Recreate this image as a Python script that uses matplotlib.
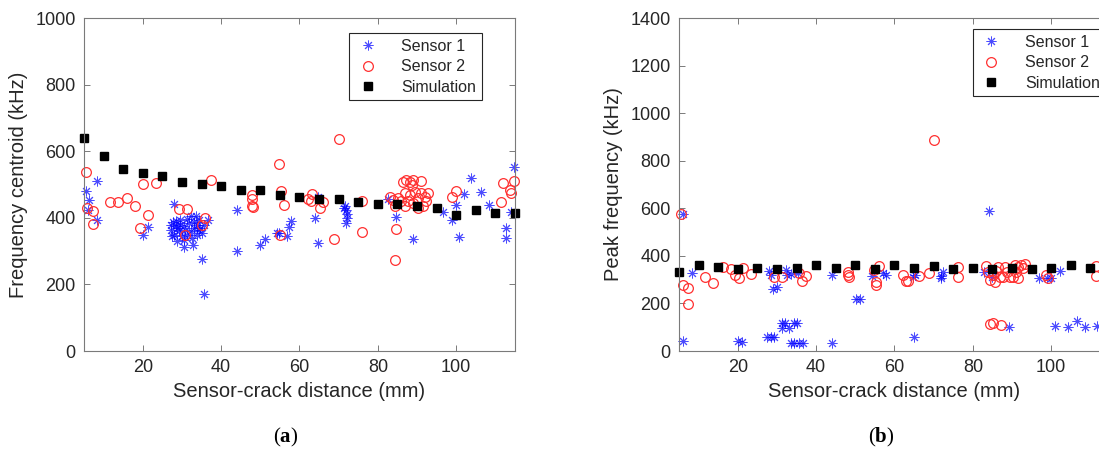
import numpy as np
import matplotlib
matplotlib.use('Agg')
import matplotlib.pyplot as plt

plt.rcParams['font.family'] = ['Liberation Sans', 'DejaVu Sans']
plt.rcParams['mathtext.fontset'] = 'custom'
plt.rcParams['mathtext.rm'] = 'Liberation Serif'
plt.rcParams['mathtext.bf'] = 'Liberation Serif:bold'

# ---- (a) frequency centroid ----
a_s1_x = [8.2, 5.4, 6.3, 6.0, 8.4, 21.3, 20.1, 28.1,
          27.8, 28.4, 27.3, 27.9, 27.5, 28.8, 30.5, 32.9, 29.6, 30.5, 31.3, 32.2,
          33.5, 34.3, 33.9, 33.0, 32.2, 31.3, 30.1, 29.2, 34.7, 35.6, 36.6, 35.1,
          33.9, 32.6, 30.5, 28.8, 29.6, 31.8, 33.0, 30.9, 28.4, 27.3, 34.3,
          35.1, 35.7,
          44.1, 44.1, 50.0, 51.3, 54.3, 54.9, 56.8, 57.2, 57.8, 64.0, 64.8, 64.8,
          71.7, 71.8, 72.1, 72.1, 72.0, 71.4,
          82.6, 84.7, 89.0, 96.6, 98.8, 100.0, 100.6, 102.0, 103.9, 106.2, 108.3,
          112.8, 112.8, 113.9, 114.7]
a_s1_y = [512, 482, 454, 424, 392, 373, 347, 442,
          386, 376, 364, 349, 344, 329, 312, 319, 394, 374, 396, 404,
          404, 394, 379, 369, 359, 349, 344, 359, 369, 379, 394, 354,
          349, 339, 334, 369, 379, 384, 386, 364, 389, 379, 364,
          276, 171,
          422, 301, 318, 337, 354, 354, 345, 372, 391, 399, 324, 464,
          434, 424, 412, 399, 384, 429,
          456, 402, 336, 417, 394, 437, 342, 472, 521, 479, 439,
          369, 339, 417, 552]

a_s2_x = [5.4, 20.0, 23.3, 37.3, 5.8, 7.4, 7.3, 11.6, 13.7, 16.0, 18.0, 21.3,
          19.4, 29.2, 31.3, 36.0, 35.1, 30.9,
          70.0, 54.8, 47.9, 47.9, 47.9, 48.1, 55.3, 56.0, 62.1, 63.2, 62.9, 66.1,
          65.3, 55.1, 68.7, 75.9, 75.9,
          83.1, 84.3, 85.2, 86.4, 87.3, 88.2, 88.6, 89.0, 91.1, 86.9, 87.7, 86.9,
          89.4, 90.3, 91.1, 92.0, 92.4, 91.5, 90.3, 89.0, 88.1, 86.0, 83.9, 92.8,
          84.7, 84.3, 98.8, 100.0, 111.9, 111.5, 113.6, 114.0, 114.7]
a_s2_y = [539, 501, 504, 513, 429, 421, 381, 447, 447, 460, 436, 409,
          369, 426, 426, 399, 377, 347,
          638, 561, 469, 456, 436, 432, 482, 439, 458, 471, 449, 448,
          429, 347, 337, 451, 357,
          464, 434, 459, 509, 514, 509, 499, 514, 512, 474, 449, 434,
          479, 459, 474, 464, 449, 434, 429, 444, 469, 449, 454, 474,
          366, 274, 464, 481, 504, 447, 484, 474, 512]

sim_x = [5, 10, 15, 20, 25, 30, 35, 40, 45, 50, 55, 60,
         65, 70, 75, 80, 85, 90, 95, 100, 105, 110, 115]
a_sim_y = [640, 586, 548, 535, 525, 508, 503, 497, 485, 485, 470, 464,
           455, 455, 446, 442, 440, 436, 430, 407, 422, 415, 415]

# ---- (b) peak frequency ----
b_s1_x = [6.0, 6.0, 8.4, 20.1, 21.1, 27.5, 28.4, 29.2, 28.1, 28.4, 29.0, 30.1,
          32.2, 32.6, 33.5, 31.2, 32.0, 34.3, 35.1, 31.2, 33.0, 33.5, 34.3, 35.6,
          36.6, 35.3,
          44.0, 44.0, 50.2, 51.3, 54.2, 57.0, 57.8, 64.6, 65.2, 64.9, 71.8, 72.3,
          72.0,
          84.2, 82.8, 85.0, 89.2, 96.9, 98.8, 100.0, 102.2, 100.9, 104.3, 106.6,
          108.5, 111.6]
b_s1_y = [576, 44, 329, 41, 38, 60, 60, 60, 338, 320, 261, 271,
          341, 320, 324, 116, 119, 119, 119, 95, 98, 35, 35, 35,
          35, 327,
          320, 35, 217, 217, 315, 327, 320, 313, 320, 60, 308, 334,
          315,
          590, 334, 310, 102, 306, 306, 306, 336, 105, 102, 128,
          102, 105]

b_s2_x = [5.4, 6.0, 7.4, 7.4, 11.6, 13.7, 16.2, 18.2, 19.4, 20.3, 21.3, 23.3,
          29.2, 31.3, 36.3, 37.4, 35.6,
          48.1, 48.2, 48.5, 56.1, 54.8, 55.3, 55.3, 62.1, 62.9, 63.5, 66.3, 68.9,
          76.1, 76.1, 70.1,
          83.3, 83.9, 84.3, 85.6, 86.4, 86.9, 88.1, 88.6, 89.4, 90.7, 91.5, 92.4,
          92.8, 91.1, 90.3, 91.5, 87.7, 85.2, 86.0, 93.2, 84.3, 85.2, 87.3, 98.6,
          99.2, 111.5, 111.5]
b_s2_y = [576, 278, 264, 198, 310, 287, 355, 346, 320, 306, 348, 324,
          313, 313, 294, 315, 327,
          334, 320, 310, 357, 341, 292, 278, 320, 294, 294, 315, 327,
          355, 313, 887,
          357, 334, 299, 292, 355, 313, 355, 334, 313, 362, 355, 362,
          348, 334, 313, 306, 310, 320, 338, 364, 114, 119, 109, 320,
          306, 357, 315]

b_sim_y = [332, 361, 352, 346, 348, 346, 348, 361, 348, 361, 346, 361,
           348, 358, 346, 348, 346, 348, 346, 348, 361, 348, 350]

TXT = '#262626'
AX = '#7a7a7a'
ast = (8, 2, 0)


def style_axes(ax, ymax, ylabel):
    ax.set_xlim(5, 115)
    ax.set_ylim(0, ymax)
    ax.set_xticks([20, 40, 60, 80, 100])
    ax.set_yticks(np.arange(0, ymax + 1, 200))
    ax.tick_params(direction='in', top=True, right=True, length=4, width=0.7,
                   colors=AX, labelcolor=TXT, labelsize=13, pad=6)
    for s in ax.spines.values():
        s.set_color(AX)
        s.set_linewidth(0.8)
    ax.set_xlabel('Sensor-crack distance (mm)', fontsize=14.5, color=TXT, labelpad=4)
    ax.set_ylabel(ylabel, fontsize=14.5, color=TXT, labelpad=5)


def draw(ax, s1x, s1y, s2x, s2y, simy):
    ax.plot(s1x, s1y, linestyle='none', marker=ast, markersize=7, color='blue',
            alpha=0.7, markeredgewidth=0.7, label='Sensor 1', clip_on=False)
    ax.plot(s2x, s2y, linestyle='none', marker='o', markersize=7,
            markerfacecolor='none', markeredgecolor='#ff3030', markeredgewidth=0.9,
            label='Sensor 2', clip_on=False)
    ax.plot(sim_x, simy, linestyle='none', marker='s', markersize=5.5, color='black',
            label='Simulation', clip_on=False)


fig = plt.figure(figsize=(10.99, 4.57), dpi=100)
ax1 = fig.add_axes([0.0764, 0.2319, 0.3922, 0.7287])
ax2 = fig.add_axes([0.6178, 0.2319, 0.3922, 0.7287])

draw(ax1, a_s1_x, a_s1_y, a_s2_x, a_s2_y, a_sim_y)
style_axes(ax1, 1000, 'Frequency centroid (kHz)')
draw(ax2, b_s1_x, b_s1_y, b_s2_x, b_s2_y, b_sim_y)
style_axes(ax2, 1400, 'Peak frequency (kHz)')

for ax, anchor, loc in [(ax1, (0.923, 0.955), 'upper right'),
                        (ax2, (0.682, 0.967), 'upper left')]:
    leg = ax.legend(loc=loc, bbox_to_anchor=anchor, fontsize=11.5, fancybox=False,
                    framealpha=1, edgecolor=TXT, borderpad=0.35, labelspacing=0.35,
                    handlelength=1.6, handletextpad=1.3, borderaxespad=0)
    leg.get_frame().set_linewidth(0.8)
    for t in leg.get_texts():
        t.set_color(TXT)

fig.text(0.260, 0.043, r'($\mathbf{a}$)', fontsize=15, ha='center', va='center',
         family='Liberation Serif', color='black')
fig.text(0.802, 0.043, r'($\mathbf{b}$)', fontsize=15, ha='center', va='center',
         family='Liberation Serif', color='black')

fig.savefig('out.png', dpi=100)
